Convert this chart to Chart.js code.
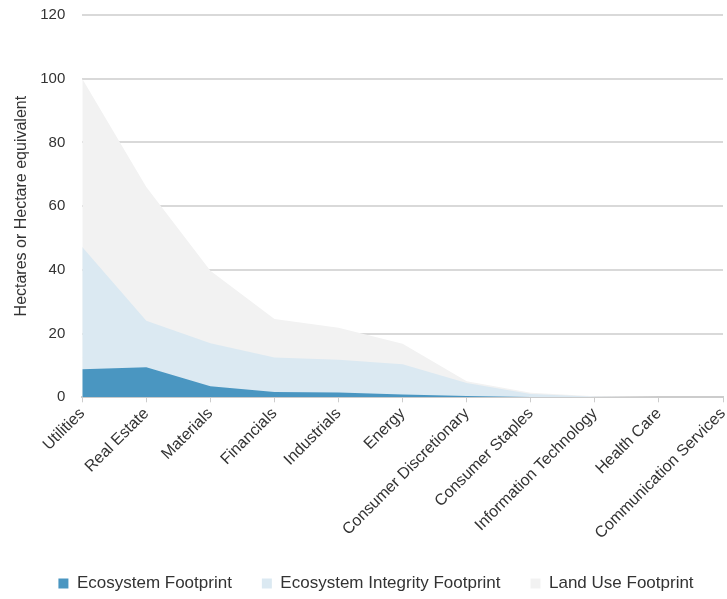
<!DOCTYPE html>
<html>
<head>
<meta charset="utf-8">
<script src="https://cdn.jsdelivr.net/npm/chart.js@4/dist/chart.umd.min.js"></script>
<style>
  html, body { margin: 0; padding: 0; background: #ffffff; }
  #wrap { width: 727px; height: 599px; }
</style>
</head>
<body>
<div id="wrap"><canvas id="chart"></canvas></div>
<script>
// GICS sectors, ordered by land use footprint
const sectors = [
  'Utilities', 'Real Estate', 'Materials', 'Financials', 'Industrials', 'Energy',
  'Consumer Discretionary', 'Consumer Staples', 'Information Technology',
  'Health Care', 'Communication Services'
];

// Footprints in hectares or hectare equivalent
const ecosystemFootprint = [8.8, 9.4, 3.5, 1.7, 1.5, 0.9, 0.4, 0.1, 0.05, 0.02, 0];
const integrityFootprint = [47.2, 24, 17, 12.5, 11.8, 10.4, 4.5, 1.0, 0.2, 0.05, 0];
const landUseFootprint   = [100, 66, 39.7, 24.6, 21.8, 16.8, 5.0, 1.4, 0.3, 0.1, 0];

const yTicks = [0, 20, 40, 60, 80, 100, 120];

const font = "'Liberation Sans', Arial, sans-serif";
const textColor = '#333333';

function area(label, data, color) {
  return {
    label: label,
    data: data,
    backgroundColor: color,
    borderColor: color,
    borderWidth: 0,
    pointRadius: 0,
    pointHoverRadius: 0,
    tension: 0,
    fill: 'origin'
  };
}

// Nudge the legend row slightly to the right of the canvas centre
const legendShift = {
  id: 'legendShift',
  afterLayout(chart) {
    const lg = chart.legend;
    if (lg) { lg.left += 11; lg.right += 11; }
  }
};

new Chart(document.getElementById('chart'), {
  type: 'line',
  data: {
    labels: sectors,
    datasets: [
      area('Ecosystem Footprint', ecosystemFootprint, '#4a96c1'),
      area('Ecosystem Integrity Footprint', integrityFootprint, '#dbe9f2'),
      area('Land Use Footprint', landUseFootprint, '#f2f2f2')
    ]
  },
  plugins: [legendShift],
  options: {
    responsive: true,
    maintainAspectRatio: false,
    animation: false,
    layout: { padding: { top: 0, left: 7, right: 4, bottom: -3 } },
    plugins: {
      tooltip: { enabled: false },
      legend: {
        position: 'bottom',
        labels: {
          boxWidth: 10,
          boxHeight: 10,
          padding: 30,
          color: textColor,
          font: { family: font, size: 17 }
        }
      }
    },
    scales: {
      x: {
        offset: false,
        grid: {
          display: true,
          drawOnChartArea: false,
          drawTicks: true,
          tickLength: 5,
          color: '#cccccc'
        },
        border: { display: true, color: '#cccccc', width: 2 },
        ticks: {
          autoSkip: false,
          minRotation: 45,
          maxRotation: 45,
          color: textColor,
          padding: 2,
          font: { family: font, size: 16 }
        },
        // rotated labels may run under the y axis
        afterFit: (axis) => { axis.paddingLeft = 0; axis.paddingRight = 0; }
      },
      y: {
        min: 0,
        max: 120,
        afterBuildTicks: (axis) => { axis.ticks = yTicks.map(v => ({ value: v })); },
        // tick padding is only needed on the chart side of the labels
        afterFit: (axis) => { axis.paddingTop = 15; axis.width -= 16; },
        grid: { color: '#d9d9d9', lineWidth: 2, drawTicks: false },
        border: { display: false },
        ticks: {
          color: textColor,
          padding: 17,
          font: { family: font, size: 15 }
        },
        title: {
          display: true,
          text: 'Hectares or Hectare equivalent',
          color: textColor,
          font: { family: font, size: 16 },
          padding: { top: 5, bottom: 8 }
        }
      }
    }
  }
});
</script>
</body>
</html>
